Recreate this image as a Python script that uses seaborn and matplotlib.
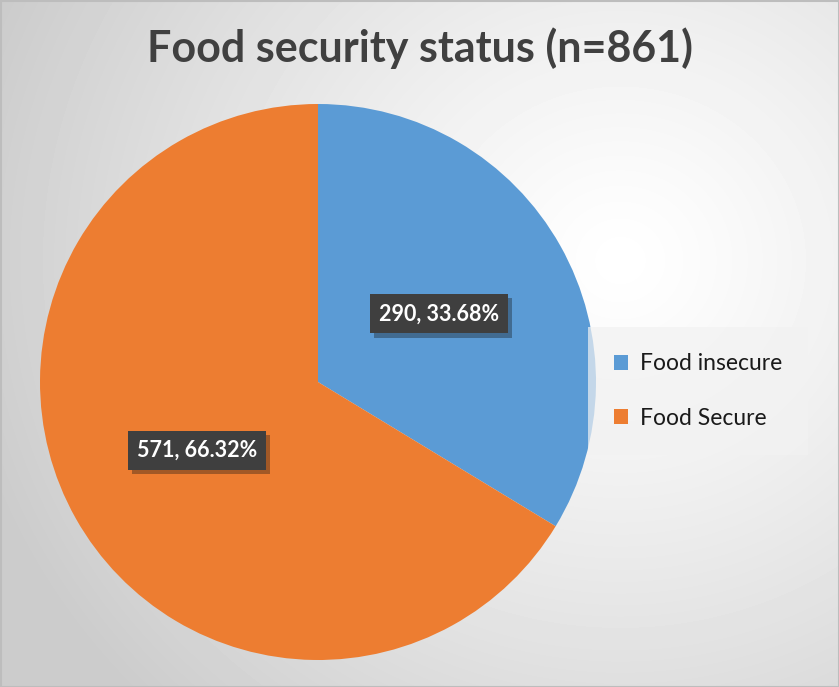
import numpy as np
import matplotlib
matplotlib.use("Agg")
import matplotlib.pyplot as plt
import matplotlib.patheffects as pe
import seaborn as sns

# Data
categories = ["Food insecure", "Food Secure"]
counts = [290, 571]
title = "Food security status (n=861)"

sns.set_theme(style="white")
plt.rcParams["font.family"] = ["Lato", "DejaVu Sans"]
colors = sns.color_palette(["#5B9BD5", "#ED7D31"])

W, H = 839, 687
fig = plt.figure(figsize=(W / 100, H / 100), dpi=100)

# Radial gradient background
bg = fig.add_axes([0, 0, 1, 1])
yy, xx = np.mgrid[0:H, 0:W]
d = np.sqrt(((xx - 620) / 640.0) ** 2 + ((yy - 260) / 600.0) ** 2)
shade = np.clip(1.0 - 0.19 * d ** 1.2, 0.80, 1.0)
bg.imshow(shade, cmap="gray", vmin=0, vmax=1, aspect="auto", extent=[0, W, H, 0])
bg.set_xlim(0, W)
bg.set_ylim(H, 0)
bg.set_axis_off()
bg.add_patch(plt.Rectangle((0.5, 0.5), W - 1, H - 1, fill=False,
                           edgecolor="#bdbdbd", linewidth=1.5))

# Pie
ax = fig.add_axes([40 / W, 27 / H, 556 / W, 556 / H])
total = sum(counts)


def fmt(pct):
    val = int(round(pct * total / 100.0))
    return f"{val}, {pct:.2f}%"


wedges, _, autotexts = ax.pie(
    counts, colors=colors, startangle=90, counterclock=False,
    autopct=fmt, pctdistance=0.5, radius=1.0,
    wedgeprops=dict(linewidth=0),
)
ax.set_xlim(-1, 1)
ax.set_ylim(-1, 1)
ax.set_aspect("equal")

# dark label boxes with shadow
for t in autotexts:
    t.set_color("white")
    t.set_fontsize(15.5)
    t.set_fontweight("bold")
    t.set_bbox(dict(boxstyle="square,pad=0.42", facecolor="#3f3f3f", edgecolor="none"))
    t.get_bbox_patch().set_path_effects(
        [pe.SimplePatchShadow(offset=(3, -3), alpha=0.35), pe.Normal()]
    )

# Legend
leg = fig.legend(
    wedges, categories, loc="center left", bbox_to_anchor=(588 / W, 1 - 391 / H),
    frameon=True, fontsize=16.5, handlelength=0.6, handleheight=0.6,
    labelspacing=1.45, borderpad=1.15, handletextpad=0.5, fancybox=False,
    borderaxespad=0,
)
leg.get_frame().set_facecolor("#f2f2f2")
leg.get_frame().set_alpha(0.7)
leg.get_frame().set_edgecolor("none")
for txt in leg.get_texts():
    txt.set_color("#1a1a1a")

fig.text(420 / W, 1 - 48 / H, title, ha="center", va="center",
         fontsize=31, fontweight="bold", color="#404040")

fig.savefig("out.png", dpi=100)
